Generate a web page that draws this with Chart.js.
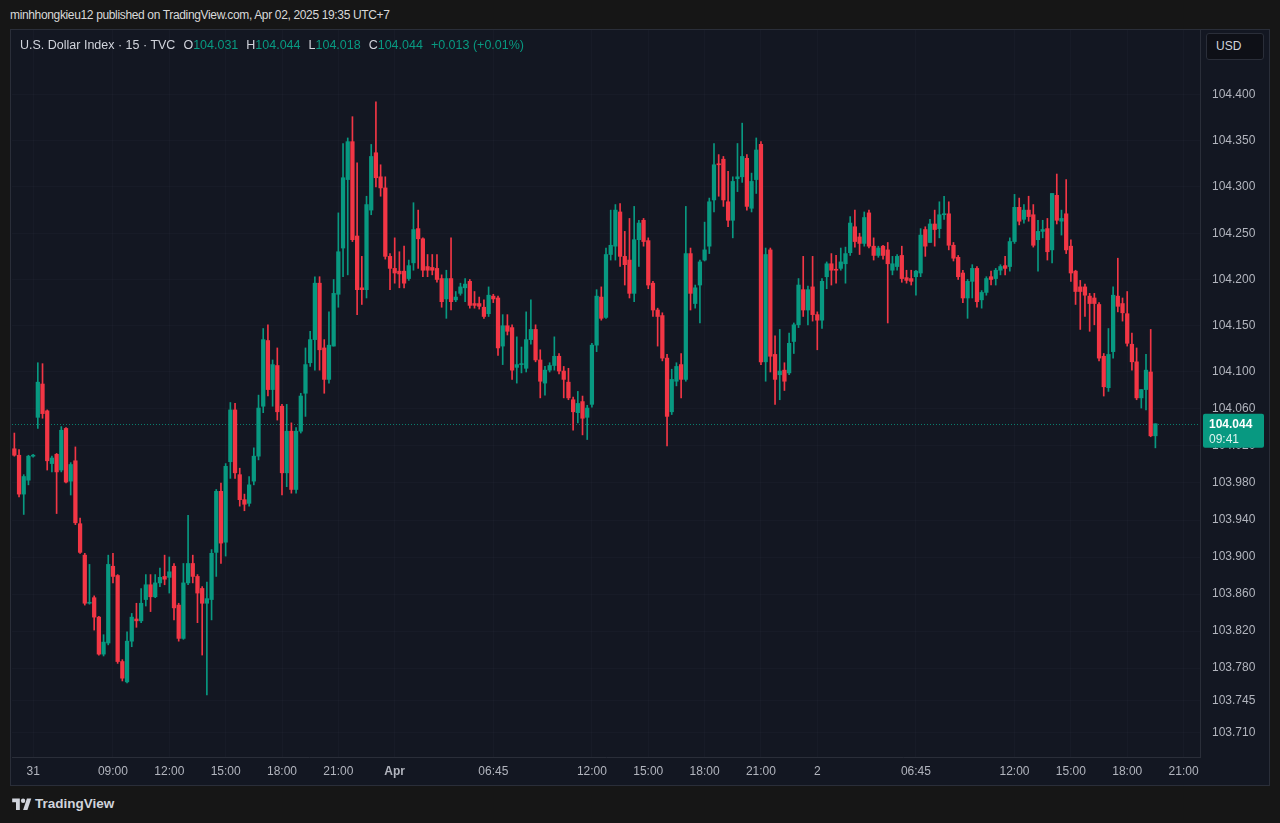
<!DOCTYPE html>
<html lang="en">
  <head>
    <meta charset="UTF-8" />
    <meta name="viewport" content="width=device-width, initial-scale=1.0" />
    <script src="https://cdn.jsdelivr.net/npm/chart.js"></script>
    <title>U.S. Dollar Index · 15 · TVC</title>
    <style>
      body {
        margin: 0;
        width: 1280px;
        height: 823px;
        overflow: hidden;
        position: relative;
        background: #161616;
        font-family: "Liberation Sans", Arial, sans-serif;
      }
      .published {
        position: absolute;
        left: 10px;
        top: 8px;
        color: #d9d9d9;
        font-size: 12px;
        letter-spacing: -0.35px;
      }
      .panel {
        position: absolute;
        left: 10px;
        top: 29px;
        width: 1260px;
        height: 757px;
        background: #131722;
        border: 1px solid #2a2e39;
        box-sizing: border-box;
      }
      .chart_box {
        position: absolute;
        left: 12px;
        top: 30px;
        width: 1256px;
        height: 755px;
      }
      .legend {
        position: absolute;
        left: 20px;
        top: 38px;
        font-size: 12.5px;
        color: #d1d4dc;
        white-space: pre;
      }
      .legend .v { color: #089981; }
      .legend .k { margin-left: 8px; }
      .usd {
        position: absolute;
        left: 1206px;
        top: 33px;
        width: 58px;
        height: 27px;
        box-sizing: border-box;
        background: #0e1017;
        border: 1px solid #2a2e39;
        border-radius: 3px;
        color: #d1d4dc;
        font-size: 12px;
        line-height: 25px;
        padding-left: 9px;
      }
      .logo {
        position: absolute;
        left: 12px;
        top: 796px;
        color: #d1d4dc;
        font-size: 13.5px;
        font-weight: bold;
        display: flex;
        align-items: center;
        gap: 3px;
      }
    </style>
  </head>

  <body>
    <div class="published">minhhongkieu12 published on TradingView.com, Apr 02, 2025 19:35 UTC+7</div>
    <div class="panel"></div>
    <div class="chart_box"><canvas id="dxyChart"></canvas></div>
    <div class="legend">U.S. Dollar Index · 15 · TVC<span class="k">O</span><span class="v">104.031</span><span class="k">H</span><span class="v">104.044</span><span class="k">L</span><span class="v">104.018</span><span class="k">C</span><span class="v">104.044</span><span class="v" style="margin-left:8px">+0.013 (+0.01%)</span></div>
    <div class="usd">USD</div>
    <div class="logo">
      <svg width="20" height="12" viewBox="0 0 36 22">
        <path d="M14 22H7V8H0V1h14v21z" fill="#d1d4dc" />
        <circle cx="20" cy="5" r="4" fill="#d1d4dc" />
        <path d="M28 22h-8l7-21h8z" fill="#d1d4dc" />
      </svg>
      <span>TradingView</span>
    </div>
  </body>
</html>

<script>
  // 15 min candles, Mar 31 -> Apr 02 (UTC+7)
  var opens = [
    104.017, 104.010, 103.968, 103.983, 104.009, 104.051, 104.087, 104.058, 104.001, 104.011,
    103.994, 104.039, 103.982, 104.004, 103.936, 103.902, 103.850, 103.856, 103.835, 103.795,
    103.807, 103.890, 103.880, 103.787, 103.765, 103.809, 103.833, 103.831, 103.854, 103.870,
    103.857, 103.872, 103.879, 103.878, 103.890, 103.848, 103.812, 103.872, 103.893, 103.879,
    103.866, 103.850, 103.854, 103.905, 103.971, 103.916, 104.003, 104.059, 103.989, 103.962,
    103.958, 103.982, 104.009, 104.063, 104.134, 104.081, 104.107, 104.063, 103.991, 104.036,
    103.973, 104.036, 104.077, 104.110, 104.135, 104.196, 104.126, 104.092, 104.128, 104.184,
    104.234, 104.308, 104.349, 104.247, 104.191, 104.189, 104.275, 104.337, 104.311, 104.299,
    104.225, 104.212, 104.209, 104.209, 104.201, 104.218, 104.255, 104.244, 104.214, 104.213,
    104.212, 104.201, 104.179, 104.201, 104.178, 104.185, 104.191, 104.198, 104.174, 104.174,
    104.170, 104.163, 104.182, 104.180, 104.128, 104.150, 104.148, 104.105, 104.108, 104.104,
    104.135, 104.146, 104.113, 104.088, 104.102, 104.107, 104.117, 104.101, 104.089, 104.070,
    104.056, 104.068, 104.051, 104.065, 104.129, 104.181, 104.159, 104.227, 104.236, 104.273,
    104.225, 104.221, 104.185, 104.243, 104.264, 104.242, 104.196, 104.167, 104.161, 104.115,
    104.057, 104.090, 104.108, 104.092, 104.228, 104.174, 104.194, 104.221, 104.236, 104.286,
    104.325, 104.330, 104.284, 104.264, 104.309, 104.311, 104.331, 104.277, 104.308, 104.346,
    104.111, 104.232, 104.119, 104.097, 104.102, 104.099, 104.133, 104.151, 104.189, 104.167,
    104.192, 104.162, 104.156, 104.203, 104.217, 104.211, 104.212, 104.217, 104.229, 104.257,
    104.246, 104.239, 104.272, 104.236, 104.226, 104.236, 104.232, 104.210, 104.214, 104.226,
    104.202, 104.201, 104.203, 104.207, 104.254, 104.240, 104.260, 104.255, 104.270, 104.271,
    104.237, 104.224, 104.207, 104.180, 104.198, 104.212, 104.178, 104.186, 104.203, 104.201,
    104.210, 104.215, 104.214, 104.241, 104.278, 104.265, 104.275, 104.270, 104.243, 104.252,
    104.255, 104.232, 104.291, 104.263, 104.271, 104.236, 104.209, 104.192, 104.192, 104.182,
    104.180, 104.173, 104.117, 104.083, 104.122, 104.182, 104.174, 104.163, 104.130, 104.111,
    104.072, 104.081, 104.100, 104.031
  ];
  var highs = [
    104.034, 104.016, 103.989, 104.010, 104.011, 104.110, 104.109, 104.059, 104.009, 104.012,
    104.041, 104.040, 104.002, 104.019, 103.942, 103.904, 103.892, 103.858, 103.836, 103.816,
    103.902, 103.904, 103.881, 103.789, 103.819, 103.839, 103.850, 103.866, 103.881, 103.881,
    103.881, 103.888, 103.902, 103.900, 103.893, 103.850, 103.893, 103.945, 103.902, 103.881,
    103.868, 103.873, 103.908, 103.973, 103.980, 104.001, 104.067, 104.066, 103.996, 103.968,
    103.987, 104.018, 104.075, 104.147, 104.151, 104.113, 104.126, 104.065, 104.065, 104.045,
    104.040, 104.077, 104.126, 104.144, 104.203, 104.203, 104.135, 104.165, 104.200, 104.272,
    104.347, 104.353, 104.376, 104.326, 104.225, 104.290, 104.346, 104.392, 104.324, 104.311,
    104.228, 104.245, 104.230, 104.236, 104.221, 104.283, 104.275, 104.245, 104.227, 104.227,
    104.227, 104.205, 104.210, 104.245, 104.187, 104.196, 104.201, 104.200, 104.187, 104.181,
    104.178, 104.192, 104.184, 104.182, 104.162, 104.162, 104.151, 104.138, 104.127, 104.165,
    104.178, 104.151, 104.124, 104.106, 104.110, 104.138, 104.120, 104.106, 104.104, 104.073,
    104.079, 104.074, 104.064, 104.131, 104.189, 104.192, 104.234, 104.275, 104.281, 104.282,
    104.252, 104.266, 104.279, 104.264, 104.266, 104.245, 104.198, 104.169, 104.164, 104.119,
    104.103, 104.110, 104.120, 104.279, 104.234, 104.194, 104.221, 104.262, 104.288, 104.347,
    104.335, 104.333, 104.317, 104.311, 104.347, 104.369, 104.335, 104.315, 104.353, 104.349,
    104.234, 104.234, 104.139, 104.146, 104.110, 104.142, 104.153, 104.201, 104.225, 104.193,
    104.225, 104.165, 104.201, 104.219, 104.228, 104.226, 104.234, 104.235, 104.268, 104.275,
    104.250, 104.273, 104.275, 104.245, 104.236, 104.237, 104.240, 104.225, 104.227, 104.236,
    104.210, 104.210, 104.210, 104.255, 104.257, 104.265, 104.275, 104.284, 104.290, 104.284,
    104.240, 104.226, 104.210, 104.200, 104.216, 104.214, 104.188, 104.203, 104.209, 104.212,
    104.216, 104.225, 104.245, 104.292, 104.288, 104.281, 104.290, 104.281, 104.264, 104.264,
    104.266, 104.293, 104.314, 104.275, 104.308, 104.243, 104.210, 104.199, 104.195, 104.185,
    104.185, 104.175, 104.120, 104.147, 104.192, 104.223, 104.180, 104.187, 104.142, 104.126,
    104.081, 104.119, 104.146, 104.044
  ];
  var lows = [
    104.009, 103.965, 103.946, 103.978, 104.008, 104.039, 104.050, 103.994, 103.992, 103.947,
    103.992, 103.980, 103.967, 103.935, 103.904, 103.848, 103.849, 103.821, 103.794, 103.793,
    103.805, 103.872, 103.785, 103.766, 103.764, 103.803, 103.824, 103.829, 103.847, 103.841,
    103.856, 103.868, 103.870, 103.861, 103.832, 103.809, 103.811, 103.870, 103.872, 103.829,
    103.794, 103.751, 103.832, 103.879, 103.893, 103.901, 103.985, 103.985, 103.955, 103.950,
    103.955, 103.978, 104.005, 104.056, 104.074, 104.063, 104.048, 103.967, 103.976, 103.969,
    103.969, 104.034, 104.052, 104.106, 104.102, 104.102, 104.077, 104.088, 104.128, 104.170,
    104.203, 104.205, 104.241, 104.162, 104.173, 104.180, 104.270, 104.300, 104.290, 104.222,
    104.189, 104.196, 104.191, 104.191, 104.199, 104.210, 104.212, 104.203, 104.203, 104.205,
    104.197, 104.170, 104.158, 104.167, 104.176, 104.183, 104.176, 104.169, 104.169, 104.168,
    104.158, 104.160, 104.175, 104.118, 104.108, 104.140, 104.092, 104.088, 104.099, 104.100,
    104.130, 104.111, 104.072, 104.075, 104.100, 104.102, 104.098, 104.072, 104.070, 104.037,
    104.045, 104.032, 104.027, 104.062, 104.122, 104.156, 104.158, 104.221, 104.221, 104.214,
    104.194, 104.180, 104.176, 104.214, 104.236, 104.190, 104.160, 104.128, 104.112, 104.020,
    104.054, 104.085, 104.072, 104.090, 104.167, 104.169, 104.153, 104.220, 104.228, 104.273,
    104.290, 104.279, 104.257, 104.245, 104.295, 104.305, 104.275, 104.273, 104.293, 104.108,
    104.090, 104.100, 104.065, 104.070, 104.080, 104.097, 104.120, 104.148, 104.160, 104.151,
    104.155, 104.124, 104.147, 104.190, 104.194, 104.196, 104.210, 104.196, 104.226, 104.235,
    104.227, 104.236, 104.234, 104.221, 104.224, 104.222, 104.153, 104.205, 104.210, 104.197,
    104.196, 104.194, 104.183, 104.203, 104.225, 104.240, 104.236, 104.245, 104.265, 104.232,
    104.220, 104.200, 104.175, 104.158, 104.180, 104.170, 104.169, 104.183, 104.194, 104.194,
    104.205, 104.205, 104.209, 104.239, 104.259, 104.261, 104.263, 104.235, 104.209, 104.245,
    104.221, 104.218, 104.260, 104.248, 104.228, 104.198, 104.173, 104.146, 104.160, 104.144,
    104.151, 104.112, 104.074, 104.079, 104.115, 104.165, 104.155, 104.128, 104.102, 104.070,
    104.061, 104.059, 104.030, 104.018
  ];
  var closes = [
    104.010, 103.968, 103.987, 104.009, 104.010, 104.089, 104.055, 104.004, 104.007, 103.992,
    104.037, 103.981, 104.000, 103.937, 103.905, 103.850, 103.851, 103.835, 103.795, 103.808,
    103.892, 103.879, 103.787, 103.769, 103.809, 103.835, 103.831, 103.850, 103.870, 103.857,
    103.872, 103.878, 103.876, 103.884, 103.845, 103.812, 103.872, 103.893, 103.879, 103.861,
    103.850, 103.855, 103.904, 103.971, 103.915, 103.998, 104.059, 103.991, 103.962, 103.957,
    103.978, 104.009, 104.061, 104.135, 104.081, 104.108, 104.057, 103.991, 104.036, 103.973,
    104.036, 104.074, 104.108, 104.135, 104.196, 104.124, 104.092, 104.129, 104.185, 104.230,
    104.310, 104.349, 104.243, 104.189, 104.189, 104.281, 104.333, 104.310, 104.299, 104.225,
    104.212, 104.207, 104.206, 104.196, 104.215, 104.254, 104.244, 104.210, 104.210, 104.210,
    104.200, 104.176, 104.201, 104.176, 104.181, 104.192, 104.195, 104.172, 104.172, 104.171,
    104.160, 104.183, 104.179, 104.126, 104.150, 104.144, 104.102, 104.108, 104.109, 104.135,
    104.146, 104.113, 104.090, 104.102, 104.107, 104.117, 104.101, 104.092, 104.072, 104.057,
    104.066, 104.050, 104.061, 104.129, 104.182, 104.158, 104.227, 104.237, 104.275, 104.225,
    104.216, 104.185, 104.243, 104.261, 104.241, 104.194, 104.167, 104.160, 104.115, 104.052,
    104.092, 104.106, 104.092, 104.228, 104.185, 104.191, 104.219, 104.232, 104.284, 104.324,
    104.324, 104.286, 104.264, 104.306, 104.311, 104.333, 104.279, 104.306, 104.340, 104.111,
    104.227, 104.117, 104.092, 104.101, 104.090, 104.131, 104.151, 104.194, 104.167, 104.189,
    104.162, 104.156, 104.198, 104.217, 104.210, 104.210, 104.219, 104.228, 104.261, 104.241,
    104.239, 104.267, 104.236, 104.226, 104.234, 104.226, 104.217, 104.217, 104.225, 104.201,
    104.199, 104.198, 104.209, 104.248, 104.236, 104.260, 104.254, 104.270, 104.271, 104.237,
    104.223, 104.203, 104.180, 104.198, 104.212, 104.176, 104.186, 104.201, 104.200, 104.210,
    104.214, 104.212, 104.241, 104.278, 104.263, 104.275, 104.268, 104.237, 104.252, 104.254,
    104.230, 104.293, 104.264, 104.266, 104.232, 104.207, 104.187, 104.187, 104.183, 104.174,
    104.174, 104.115, 104.084, 104.119, 104.183, 104.171, 104.164, 104.131, 104.111, 104.072,
    104.081, 104.102, 104.031, 104.044
  ];

  // time axis: slot index of each label (free slots after the last bar)
  var slotCount = 253;
  var timeTickSlots = [4, 21, 33, 45, 57, 69, 81, 102, 123, 135, 147, 159, 171, 192, 213, 225, 237, 249];
  var timeTickTexts = ["31", "09:00", "12:00", "15:00", "18:00", "21:00", "Apr", "06:45", "12:00",
    "15:00", "18:00", "21:00", "2", "06:45", "12:00", "15:00", "18:00", "21:00"];
  var boldTicks = ["Apr"];

  var priceTicks = [104.4, 104.35, 104.3, 104.25, 104.2, 104.15, 104.1, 104.06, 104.02,
    103.98, 103.94, 103.9, 103.86, 103.82, 103.78, 103.745, 103.71];
  var priceMin = 103.6838;
  var priceMax = 104.4697;
  var lastPrice = 104.044;
  var countdown = "09:41";

  var upColor = "#089981";
  var downColor = "#f23645";
  var axisText = "#b2b5be";
  var gridColor = "rgba(42, 46, 57, 0.22)";

  var slots = [];
  for (var i = 0; i < slotCount; i++) slots.push(String(i));

  function tickText(i) {
    var k = timeTickSlots.indexOf(i);
    return k >= 0 ? timeTickTexts[k] : "";
  }

  var candleColors = opens.map(function (o, i) {
    return closes[i] >= o ? upColor : downColor;
  });

  var lastPricePlugin = {
    id: "lastPrice",
    beforeDatasetsDraw: function (chart) {
      var ctx = chart.ctx;
      var area = chart.chartArea;
      var y = Math.round(chart.scales.y.getPixelForValue(lastPrice)) + 0.5;
      ctx.save();
      ctx.strokeStyle = "rgba(8, 153, 129, 0.8)";
      ctx.lineWidth = 1;
      ctx.setLineDash([1, 2]);
      ctx.beginPath();
      ctx.moveTo(area.left, y);
      ctx.lineTo(area.right, y);
      ctx.stroke();
      ctx.restore();
    },
    afterDraw: function (chart) {
      var ctx = chart.ctx;
      var area = chart.chartArea;
      var y = chart.scales.y.getPixelForValue(lastPrice);
      var x = area.right + 3;
      ctx.save();
      ctx.fillStyle = upColor;
      ctx.beginPath();
      ctx.roundRect(x, y - 10, 61, 34, 2);
      ctx.fill();
      ctx.fillStyle = "#ffffff";
      ctx.textBaseline = "middle";
      ctx.font = "bold 12px 'Liberation Sans', Arial, sans-serif";
      ctx.fillText(lastPrice.toFixed(3), x + 6, y + 1);
      ctx.font = "12px 'Liberation Sans', Arial, sans-serif";
      ctx.fillStyle = "#dff3ee";
      ctx.fillText(countdown, x + 6, y + 16);
      ctx.restore();
    },
  };

  var data = {
    labels: slots,
    datasets: [
      {
        label: "body",
        data: opens.map(function (o, i) { return [o, closes[i]]; }),
        backgroundColor: candleColors,
        barThickness: 3.6,
        minBarLength: 1,
        grouped: false,
        order: 1,
      },
      {
        label: "wick",
        data: lows.map(function (l, i) { return [l, highs[i]]; }),
        backgroundColor: candleColors,
        barThickness: 1,
        grouped: false,
        order: 2,
      },
    ],
  };

  var config = {
    type: "bar",
    data: data,
    plugins: [lastPricePlugin],
    options: {
      responsive: true,
      maintainAspectRatio: false,
      animation: false,
      layout: { padding: 0 },
      plugins: {
        legend: { display: false },
        tooltip: { enabled: false },
      },
      scales: {
        x: {
          type: "category",
          offset: true,
          grid: {
            offset: false,
            drawTicks: false,
            color: function (c) {
              return timeTickSlots.indexOf(c.index) >= 0 ? gridColor : "transparent";
            },
          },
          border: { display: true, color: "#2a2e39" },
          ticks: {
            autoSkip: false,
            maxRotation: 0,
            minRotation: 0,
            padding: 7,
            color: axisText,
            font: function (c) {
              var t = c.tick ? tickText(c.index) : "";
              return {
                size: 12,
                family: "'Liberation Sans', Arial, sans-serif",
                weight: boldTicks.indexOf(t) >= 0 ? "bold" : "normal",
              };
            },
            callback: function (v, i) {
              return tickText(i);
            },
          },
          afterFit: function (s) {
            s.height = 28;
            s.paddingLeft = 0;
            s.paddingRight = 0;
          },
        },
        y: {
          position: "right",
          min: priceMin,
          max: priceMax,
          afterBuildTicks: function (s) {
            s.ticks = priceTicks.map(function (v) { return { value: v }; });
          },
          grid: { drawTicks: false, color: gridColor },
          border: { display: true, color: "#2a2e39" },
          ticks: {
            autoSkip: false,
            padding: 12,
            color: axisText,
            font: { size: 12, family: "'Liberation Sans', Arial, sans-serif" },
            callback: function (v) {
              return Number(v).toFixed(3);
            },
          },
          afterFit: function (s) {
            s.width = 68;
            s.paddingTop = 0;
            s.paddingBottom = 0;
          },
        },
      },
    },
  };

  var dxyChart = new Chart(document.getElementById("dxyChart"), config);
</script>
